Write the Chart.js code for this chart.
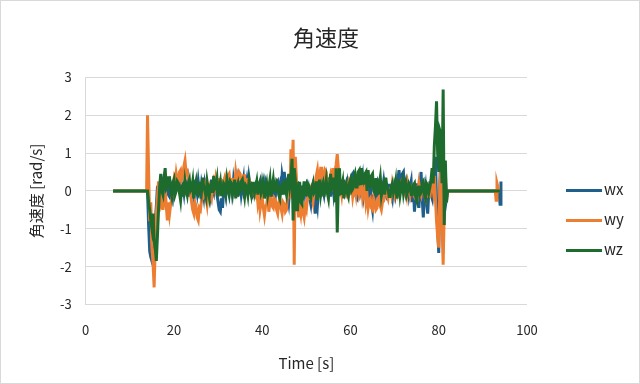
<!DOCTYPE html>
<html>
<head>
<meta charset="utf-8">
<script src="https://cdn.jsdelivr.net/npm/chart.js@4.4.1/dist/chart.umd.min.js"></script>
<style>
  body { margin: 0; background: #fff; }
  #wrap { position: relative; width: 640px; height: 384px; }
  #frame { position: absolute; left: 0; top: 0; width: 640px; height: 384px; box-sizing: border-box; border: 1px solid #d9d9d9; pointer-events: none; }
  #legend { position: absolute; left: 566px; top: 180px; font: 15px "Noto Sans CJK JP", sans-serif; color: #262626; }
  #legend .item { position: relative; height: 30px; }
  #legend .swatch { position: absolute; left: 0; top: 9px; width: 36px; height: 3px; }
  #legend .label { position: absolute; left: 38px; top: -1px; line-height: 20px; }
</style>
</head>
<body>
<div id="wrap">
  <canvas id="gyroChart" width="640" height="384"></canvas>
  <div id="legend"></div>
  <div id="frame"></div>
</div>
<script>
// series labels and colours
const seriesNames = ['wx', 'wy', 'wz'];
const seriesColors = ['#1f5f8b', '#ed7d31', '#1e6b2e'];

// sampling of the recorded part: t = t0 + i*dt
const t0 = 14;
const dt = 0.25;
const leadTimes = [6.2, 13.8];   // flat (zero) before the motion starts
const tailTimes = [92.8, 93.0, 93.2, 93.6, 93.9, 94.1];

// angular velocity [rad/s] (one row = 5 s)
const wx = [
  0, -0.9, -1.6, -1.75, -1.85, -1.5, -1.3, -0.8, -0.4, 0.1, 0.15, -0.15, -0.2, 0.1, 0.25, -0.05, -0.1, 0.2, 0.2, -0.1,
  -0.15, 0.2, 0.1, -0.1, 0.25, 0.0, 0.05, 0.3, 0.2, -0.05, -0.1, 0.2, 0.15, -0.05, 0.3, 0.1, 0.05, 0.25, -0.15, 0.1,
  0.1, -0.1, -0.2, 0.2, 0.15, -0.05, 0.25, 0.0, -0.1, 0.2, 0.05, -0.15, 0.2, 0.05, -0.15, 0.15, 0.1, -0.1, 0.3, 0.05,
  -0.05, 0.25, 0.2, -0.1, -0.3, -0.5, -0.55, -0.2, -0.45, 0.0, 0.1, -0.1, 0.25, 0.05, -0.1, 0.2, 0.15, -0.05, 0.3, 0.1,
  0.05, 0.25, -0.15, 0.1, 0.2, -0.1, 0.1, 0.3, -0.2, 0.05, 0.25, -0.05, 0.35, 0.15, 0.1, -0.15, -0.1, 0.15, 0.2, -0.05,
  -0.15, 0.15, 0.1, -0.1, 0.2, 0.0, -0.05, 0.25, 0.15, -0.1, -0.2, 0.1, 0.1, -0.15, 0.3, 0.05, -0.1, 0.2, 0.25, 0.0,
  0.15, -0.1, 0.4, 0.2, 0.5, 0.1, 0.2, -0.1, -0.3, 0.1, 0.3, -0.1, -0.2, 0.2, 0.1, -0.2, 0.25, 0.0, -0.25, 0.1,
  0.1, -0.15, -0.2, 0.15, 0.2, -0.1, 0.05, -0.2, -0.35, 0.0, 0.15, -0.3, -0.6, -0.2, -0.4, 0.05, 0.1, -0.15, 0.25, 0.05,
  -0.1, 0.15, 0.2, -0.05, 0.35, 0.1, -0.15, 0.2, 0.25, -0.1, 0.1, -0.15, -0.2, 0.1, 0.15, -0.1, -0.1, 0.15, 0.2, -0.05,
  0.05, 0.2, -0.15, 0.1, 0.25, 0.4, 0.45, 0.05, 0.1, -0.15, -0.2, 0.15, 0.3, 0.0, 0.15, 0.35, -0.1, 0.1, 0.2, -0.1,
  -0.25, 0.0, 0.1, -0.3, -0.5, -0.1, -0.35, 0.1, 0.2, -0.1, 0.05, 0.2, -0.15, 0.05, 0.25, -0.05, 0.1, -0.15, -0.1, 0.15,
  0.15, -0.05, -0.2, 0.1, 0.2, -0.1, 0.05, 0.3, 0.55, 0.1, 0.3, 0.45, 0.5, 0.0, -0.1, 0.2, 0.2, -0.1, 0.1, 0.25,
  -0.3, 0.1, -0.55, -0.1, 0.2, -0.2, -0.45, 0.1, 0.5, -0.2, -0.7, -0.1, 0.1, -0.3, -0.6, 0.0, 0.25, -0.1, -0.2, 0.3,
  0.6, 0.9, -0.3, -1.0, -1.64, 0.2, 1.1, 0.4, -0.5, 0.6, 0.3, -0.2,
  0
];
const wy = [
  2.0, 0.5, -0.8, -0.3, -1.5, -1.9, -2.55, -1.5, -0.6, -0.2, 0.25, -0.1, -0.3, -0.1, -0.5, -0.2, 0.1, -0.4, -0.78, -0.3,
  -0.6, -0.35, -0.2, 0.1, 0.3, 0.15, 0.45, 0.25, 0.2, 0.5, 0.55, 0.3, 0.4, 0.65, 0.8, 0.45, 0.5, 0.3, 0.2, -0.1,
  -0.3, -0.5, -0.6, -0.3, -0.4, -0.7, -0.78, -0.45, -0.5, -0.25, -0.2, 0.05, 0.15, -0.15, -0.35, 0.0, 0.1, -0.1, -0.2, 0.1,
  0.25, 0.1, 0.35, 0.2, 0.15, 0.3, 0.3, 0.05, 0.1, 0.25, 0.35, 0.15, 0.2, 0.4, 0.45, 0.2, 0.15, 0.3, 0.3, 0.1,
  0.5, 0.3, 0.35, 0.5, 0.45, 0.2, 0.25, 0.4, 0.4, 0.1, 0.15, 0.3, 0.3, 0.05, -0.05, 0.15, 0.1, -0.1, -0.15, 0.05,
  -0.3, -0.1, -0.5, -0.3, -0.2, -0.45, -0.65, -0.4, -0.35, -0.15, -0.55, -0.3, -0.15, -0.4, -0.45, -0.2, -0.25, -0.5, -0.6, -0.3,
  -0.2, -0.45, -0.6, -0.3, -0.35, -0.55, -0.5, -0.1, 0.2, -0.2, 1.1, 0.6, 1.35, -1.95, 0.9, 0.3, -0.3, -0.7, -0.4, -0.6,
  -0.3, -0.55, -0.7, -0.4, -0.5, -0.2, -0.2, 0.05, 0.1, -0.15, -0.3, 0.0, 0.2, 0.4, 0.55, 0.2, 0.35, 0.6, 0.6, 0.25,
  0.3, 0.55, 0.5, 0.1, -0.1, 0.2, 0.4, 0.25, 0.6, 0.35, 0.5, 0.7, 0.97, 0.6, 0.3, 0.1, -0.1, 0.2, 0.15, -0.05,
  -0.1, 0.1, 0.2, -0.05, 0.05, 0.15, -0.15, 0.05, 0.1, -0.1, 0.2, 0.0, -0.1, 0.1, 0.15, -0.2, -0.05, 0.1, -0.3, -0.1,
  -0.45, -0.25, -0.2, -0.45, -0.5, -0.2, -0.3, -0.5, -0.45, -0.2, -0.15, -0.4, -0.5, -0.3, -0.25, 0.0, 0.1, -0.1, -0.2, 0.05,
  0.05, -0.1, 0.2, 0.05, -0.1, 0.1, 0.15, -0.05, 0.1, 0.2, 0.25, 0.05, -0.05, 0.15, 0.1, -0.1, 0.2, 0.05, -0.1, 0.1,
  0.05, -0.1, -0.15, 0.1, 0.1, -0.05, 0.2, 0.0, -0.1, 0.15, 0.15, -0.1, -0.2, 0.05, 0.1, -0.15, -0.15, 0.1, 0.2, 0.0,
  0.4, -0.2, -0.8, -1.2, -1.5, 0.1, 0.6, -0.9, -1.95, -0.5, 0.5, -0.3,
  0
];
const wz = [
  0, -0.3, -0.5, -0.8, -1.0, -0.6, -1.3, -1.5, -1.85, -1.2, -0.5, 0.1, 0.45, 0.0, -0.1, 0.3, 0.6, 0.05, 0.1, 0.35,
  0.35, 0.0, -0.15, 0.2, 0.3, -0.1, 0.0, 0.25, 0.2, -0.05, -0.25, 0.1, 0.15, -0.15, 0.25, 0.05, -0.1, 0.2, 0.3, 0.0,
  0.05, 0.25, -0.2, 0.1, 0.25, -0.05, -0.1, 0.2, 0.2, 0.0, 0.35, 0.1, 0.0, -0.15, 0.25, 0.05, -0.15, 0.15, 0.2, -0.05,
  0.4, 0.05, 0.1, 0.3, -0.15, 0.1, 0.25, -0.1, -0.1, 0.2, 0.15, -0.05, 0.3, 0.1, -0.05, 0.25, 0.2, -0.1, 0.05, 0.3,
  -0.2, 0.1, 0.2, -0.05, 0.0, 0.25, 0.3, 0.05, -0.15, 0.15, 0.1, -0.1, 0.25, 0.05, -0.1, 0.2, 0.2, -0.05, 0.1, 0.25,
  -0.1, 0.15, 0.25, -0.05, 0.05, 0.2, -0.2, 0.05, 0.2, -0.1, 0.1, 0.3, -0.15, 0.1, 0.3, 0.0, 0.0, 0.25, 0.2, -0.1,
  -0.2, 0.1, 0.15, -0.1, 0.3, 0.05, -0.1, 0.2, 0.45, 0.1, 0.3, 0.85, -0.78, 0.6, 0.3, -0.5, -0.5, 0.2, 0.2, -0.3,
  -0.35, 0.0, 0.25, -0.1, -0.1, 0.2, 0.15, -0.15, -0.2, 0.1, 0.2, -0.05, 0.0, 0.25, -0.25, 0.05, 0.3, -0.1, 0.1, 0.2,
  -0.15, 0.1, 0.3, -0.05, -0.2, 0.2, 0.45, 0.05, 0.1, 0.35, -0.3, 0.6, -1.1, 0.2, 0.6, -0.1, 0.1, 0.25, -0.2, 0.1,
  0.2, -0.05, -0.15, 0.2, 0.3, 0.0, 0.05, 0.35, 0.45, 0.1, 0.1, 0.5, 0.55, 0.15, 0.6, 0.2, 0.2, 0.45, 0.5, 0.0,
  0.55, 0.1, 0.1, 0.4, 0.45, 0.0, -0.05, 0.3, 0.3, -0.1, 0.15, 0.35, -0.1, 0.1, 0.2, -0.1, 0.35, 0.1, 0.05, -0.15,
  -0.15, 0.1, 0.2, -0.05, 0.05, 0.25, -0.2, 0.05, 0.3, -0.1, 0.1, 0.25, -0.05, 0.15, 0.25, -0.1, 0.0, 0.2, 0.15, -0.1,
  -0.1, 0.15, 0.2, -0.15, -0.25, 0.1, 0.1, -0.1, -0.05, 0.2, 0.25, -0.1, -0.2, 0.2, 0.15, -0.05, 0.1, 0.3, 0.6, 0.2,
  1.2, 1.7, 2.37, 1.0, 0.5, 1.6, 1.5, 0.2, 2.68, -0.9, 0.8, -0.3,
  0
];
// short blips after the main record
const wxTail = [0, 0, 0, 0, -0.35, 0.25];
const wyTail = [0, -0.25, 0.2, 0, 0, 0];
const wzTail = [0, 0, 0, 0, 0, 0];

const yTicks = [-3, -2, -1, 0, 1, 2, 3];
const xTicks = [0, 20, 40, 60, 80, 100];

function toPoints(vals, tail){
  const pts = leadTimes.map(t => ({x: t, y: 0}));
  vals.forEach((v, i) => pts.push({x: t0 + i*dt, y: v}));
  tail.forEach((v, i) => pts.push({x: tailTimes[i], y: v}));
  return pts;
}

const font = '"Noto Sans CJK JP", "Noto Sans", sans-serif';
const txt = '#262626';
const allVals = [wx, wy, wz];
const allTails = [wxTail, wyTail, wzTail];

document.addEventListener('DOMContentLoaded', function(){
  const ctx = document.getElementById('gyroChart');
  const chart = new Chart(ctx.getContext('2d'), {
    type: 'line',
    data: {
      datasets: seriesNames.map((name, k) => ({
        label: name,
        data: toPoints(allVals[k], allTails[k]),
        borderColor: seriesColors[k],
        backgroundColor: seriesColors[k],
        borderWidth: 3,
        pointRadius: 0,
        tension: 0,
        order: 3 - k
      }))
    },
    options: {
      responsive: false,
      animation: false,
      layout: { padding: { left: 12, right: 0, top: 0, bottom: 0 } },
      plugins: {
        legend: { display: false },
        tooltip: { enabled: false },
        title: {
          display: true,
          text: '角速度',
          color: txt,
          font: { family: font, size: 22, weight: 'normal' },
          padding: { top: 24, bottom: 27 }
        }
      },
      scales: {
        x: {
          type: 'linear',
          min: 0, max: 100,
          afterBuildTicks: s => { s.ticks = xTicks.map(v => ({value: v})); },
          grid: { display: false, drawTicks: false },
          border: { display: false },
          ticks: { color: txt, font: { family: font, size: 13 }, padding: 18, maxRotation: 0 },
          title: { display: true, text: 'Time [s]', color: txt, font: { family: font, size: 15 }, padding: { top: -2, bottom: 12 } }
        },
        y: {
          min: -3, max: 3,
          afterBuildTicks: s => { s.ticks = yTicks.map(v => ({value: v})); },
          grid: { color: '#d9d9d9', drawTicks: false },
          border: { display: true, color: '#d9d9d9' },
          ticks: { color: txt, font: { family: font, size: 13 }, padding: 14 },
          title: { display: true, text: '角速度 [rad/s]', color: txt, font: { family: font, size: 15 }, padding: { top: 15, bottom: 1 } }
        },
        // empty right-hand band that leaves room for the legend
        legendSpace: {
          type: 'linear',
          position: 'right',
          grid: { display: false },
          border: { display: false },
          ticks: { display: false },
          afterFit: s => { s.width = 113; }
        }
      }
    }
  });

  // legend laid out like the original (line swatch + name)
  const legend = document.getElementById('legend');
  chart.data.datasets.forEach(ds => {
    const item = document.createElement('div');
    item.className = 'item';
    item.innerHTML = '<span class="swatch" style="background:' + ds.borderColor + '"></span><span class="label">' + ds.label + '</span>';
    legend.appendChild(item);
  });
});
</script>
</body>
</html>
